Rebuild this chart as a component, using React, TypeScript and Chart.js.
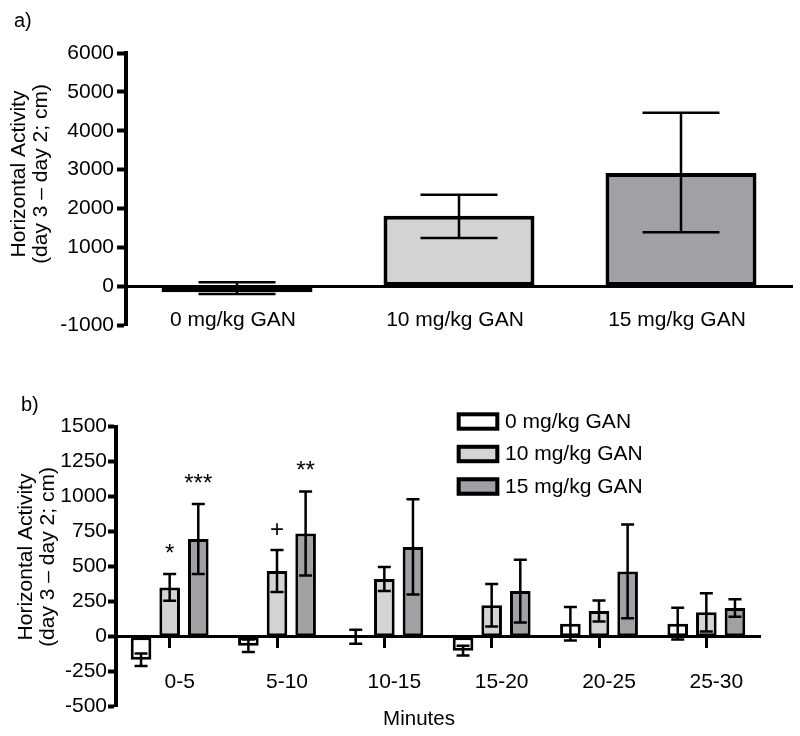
import React, { useEffect, useRef } from 'react';
import { Chart, registerables } from 'chart.js';

Chart.register(...registerables);

const FONT = '"Liberation Sans", Arial, Helvetica, sans-serif';
Chart.defaults.font.family = FONT;
Chart.defaults.color = '#000';

// ---------- Panel a data ----------
const aCategories = ['0 mg/kg GAN', '10 mg/kg GAN', '15 mg/kg GAN'];
const aMeans = [-160, 1810, 2910];
const aLower = [-200, 1240, 1385];
const aUpper = [100, 2350, 4460];
const aColors = ['#ffffff', '#d4d4d4', '#a1a1a5'];
const aTicks = { min: -1000, max: 6000, step: 1000 };

// ---------- Panel b data ----------
const bCategories = ['0-5', '5-10', '10-15', '15-20', '20-25', '25-30'];
const bSeriesLabels = ['0 mg/kg GAN', '10 mg/kg GAN', '15 mg/kg GAN'];
const b0Mean = [-165, -65, 0, -100, 93, 93];
const b0Sem = [45, 45, 50, 35, 120, 113];
const b10Mean = [352, 470, 412, 224, 184, 174];
const b10Sem = [95, 150, 86, 152, 75, 137];
const b15Mean = [698, 738, 641, 326, 466, 205];
const b15Sem = [250, 300, 340, 224, 335, 63];
const b0Sig = ['', '', '', '', '', ''];
const b10Sig = ['*', '+', '', '', '', ''];
const b15Sig = ['***', '**', '', '', '', ''];
const bColors = ['#ffffff', '#d4d4d4', '#a1a1a5'];
const bTicks = { min: -500, max: 1500, step: 250 };

type Bars = { lower: number[]; upper: number[] }[];
type TextItem = { text: string; x: number; y: number; size: number; rot?: number; align?: CanvasTextAlign };

function makeErrorBars(series: Bars, lineWidth: number, cap: number) {
  return {
    id: 'errorBars',
    afterDatasetsDraw(chart: any) {
      const { ctx } = chart;
      const ys = chart.scales.y;
      ctx.save();
      ctx.strokeStyle = '#000';
      ctx.lineWidth = lineWidth;
      series.forEach((s, di) => {
        const meta = chart.getDatasetMeta(di);
        meta.data.forEach((el: any, i: number) => {
          const x = el.x;
          const yl = ys.getPixelForValue(s.lower[i]);
          const yh = ys.getPixelForValue(s.upper[i]);
          ctx.beginPath();
          ctx.moveTo(x, yl);
          ctx.lineTo(x, yh);
          ctx.moveTo(x - cap, yl);
          ctx.lineTo(x + cap, yl);
          ctx.moveTo(x - cap, yh);
          ctx.lineTo(x + cap, yh);
          ctx.stroke();
        });
      });
      ctx.restore();
    },
  };
}

function makeTexts(items: TextItem[]) {
  return {
    id: 'texts',
    afterDraw(chart: any) {
      const { ctx } = chart;
      items.forEach((t) => {
        ctx.save();
        ctx.fillStyle = '#000';
        ctx.font = `${t.size}px ${FONT}`;
        ctx.textAlign = t.align || 'center';
        ctx.textBaseline = 'middle';
        ctx.translate(t.x, t.y);
        if (t.rot) ctx.rotate(t.rot);
        ctx.fillText(t.text, 0, 0);
        ctx.restore();
      });
    },
  };
}

function makeSig(sigs: string[][], upper: number[][], offset: number, size: number) {
  return {
    id: 'sig',
    afterDatasetsDraw(chart: any) {
      const { ctx } = chart;
      const ys = chart.scales.y;
      ctx.save();
      ctx.fillStyle = '#000';
      ctx.font = `${size}px ${FONT}`;
      ctx.textAlign = 'center';
      ctx.textBaseline = 'alphabetic';
      sigs.forEach((arr, di) => {
        const meta = chart.getDatasetMeta(di);
        arr.forEach((s, i) => {
          if (!s) return;
          const el = meta.data[i];
          ctx.fillText(s, el.x, ys.getPixelForValue(upper[di][i]) - offset);
        });
      });
      ctx.restore();
    },
  };
}

const legendPlugin = {
  id: 'boxLegend',
  afterDraw(chart: any) {
    const { ctx } = chart;
    const x0 = 456.7;
    const top0 = 52.3;
    const rowH = 32.5;
    const w = 42.6;
    const h = 18.4;
    chart.data.datasets.forEach((ds: any, i: number) => {
      const top = top0 + i * rowH;
      ctx.save();
      ctx.fillStyle = ds.backgroundColor;
      ctx.fillRect(x0, top, w, h);
      ctx.strokeStyle = '#000';
      ctx.lineWidth = 4;
      ctx.strokeRect(x0 + 2, top + 2, w - 4, h - 4);
      ctx.fillStyle = '#000';
      ctx.font = `21px ${FONT}`;
      ctx.textAlign = 'left';
      ctx.textBaseline = 'middle';
      ctx.fillText(ds.label, 505, top + h / 2 + 0.5);
      ctx.restore();
    });
  },
};

function PanelA() {
  const ref = useRef<HTMLCanvasElement>(null);
  useEffect(() => {
    const chart = new Chart(ref.current as HTMLCanvasElement, {
      type: 'bar',
      data: {
        labels: aCategories,
        datasets: [
          {
            label: 'Horizontal Activity',
            data: aMeans,
            backgroundColor: aColors,
            borderColor: '#000',
            borderWidth: 4,
            borderSkipped: false,
            barPercentage: 0.68,
            categoryPercentage: 1,
          },
        ],
      },
      options: {
        animation: false,
        responsive: false,
        maintainAspectRatio: false,
        layout: { padding: { top: 53, right: 8, bottom: 25, left: 0 } },
        plugins: { legend: { display: false }, tooltip: { enabled: false } },
        scales: {
          x: {
            type: 'category',
            position: { y: 0 } as any,
            grid: { display: false, drawTicks: false },
            border: { display: true, color: '#000', width: 3 },
            ticks: { color: '#000', font: { size: 21 }, padding: 21.7, labelOffset: -4, maxRotation: 0, autoSkip: false },
          },
          y: {
            min: aTicks.min,
            max: aTicks.max,
            ticks: { stepSize: aTicks.step, color: '#000', font: { size: 21 }, padding: 3, callback: (v: any) => String(v) },
            grid: { display: true, drawOnChartArea: false, drawTicks: true, tickLength: 9, tickWidth: 4, tickColor: '#000' },
            border: { display: true, color: '#000', width: 4 },
            afterFit: (s: any) => {
              s.width = 126;
            },
          },
        },
      } as any,
      plugins: [
        makeErrorBars([{ lower: aLower, upper: aUpper }], 2.5, 38.5),
        makeTexts([
          { text: 'a)', x: 14, y: 21, size: 20, align: 'left' },
          { text: 'Horizontal Activity', x: 19, y: 174, size: 21, rot: -Math.PI / 2 },
          { text: '(day 3 \u2013 day 2; cm)', x: 41.5, y: 174, size: 21, rot: -Math.PI / 2 },
        ]),
      ],
    });
    return () => chart.destroy();
  }, []);
  return (
    <canvas
      ref={ref}
      width={800}
      height={350}
      style={{ position: 'absolute', left: 0, top: 0, width: 800, height: 350 }}
    />
  );
}

function PanelB() {
  const ref = useRef<HTMLCanvasElement>(null);
  useEffect(() => {
    const means = [b0Mean, b10Mean, b15Mean];
    const sems = [b0Sem, b10Sem, b15Sem];
    const lower = means.map((m, k) => m.map((v, i) => v - sems[k][i]));
    const upper = means.map((m, k) => m.map((v, i) => v + sems[k][i]));
    const chart = new Chart(ref.current as HTMLCanvasElement, {
      type: 'bar',
      data: {
        labels: bCategories,
        datasets: means.map((m, k) => ({
          label: bSeriesLabels[k],
          data: m,
          backgroundColor: bColors[k],
          borderColor: '#000',
          borderWidth: 3,
          borderSkipped: false,
          barPercentage: 0.72,
          categoryPercentage: 0.8,
        })),
      },
      options: {
        animation: false,
        responsive: false,
        maintainAspectRatio: false,
        layout: { padding: { top: 66.7, right: 40, bottom: 29.3, left: 0 } },
        plugins: { legend: { display: false }, tooltip: { enabled: false } },
        scales: {
          x: {
            type: 'category',
            position: { y: 0 } as any,
            offset: true,
            grid: {
              display: true,
              offset: false,
              drawOnChartArea: false,
              drawTicks: true,
              tickLength: 10,
              tickWidth: 3,
              tickColor: '#000',
              color: '#000',
            },
            border: { display: true, color: '#000', width: 3 },
            ticks: { color: '#000', font: { size: 21 }, padding: 23.2, labelOffset: 10, maxRotation: 0, autoSkip: false },
          },
          y: {
            min: bTicks.min,
            max: bTicks.max,
            ticks: { stepSize: bTicks.step, color: '#000', font: { size: 21 }, padding: 1, callback: (v: any) => String(v) },
            grid: { display: true, drawOnChartArea: false, drawTicks: true, tickLength: 8, tickWidth: 4, tickColor: '#000' },
            border: { display: true, color: '#000', width: 4 },
            afterFit: (s: any) => {
              s.width = 116;
            },
          },
        },
      } as any,
      plugins: [
        makeErrorBars(
          lower.map((l, k) => ({ lower: l, upper: upper[k] })),
          2.5,
          6.5
        ),
        makeSig([b0Sig, b10Sig, b15Sig], upper, 13, 24),
        legendPlugin,
        makeTexts([
          { text: 'b)', x: 21, y: 45.5, size: 20, align: 'left' },
          { text: 'Horizontal Activity', x: 26, y: 197, size: 21, rot: -Math.PI / 2 },
          { text: '(day 3 \u2013 day 2; cm)', x: 48.5, y: 197, size: 21, rot: -Math.PI / 2 },
          { text: 'Minutes', x: 419, y: 359, size: 20.5 },
        ]),
      ],
    });
    return () => chart.destroy();
  }, []);
  return (
    <canvas
      ref={ref}
      width={800}
      height={376}
      style={{ position: 'absolute', left: 0, top: 360, width: 800, height: 376 }}
    />
  );
}

export default function App() {
  return (
    <div style={{ position: 'absolute', left: 0, top: 0, width: 800, height: 736, background: '#fff' }}>
      <PanelA />
      <PanelB />
    </div>
  );
}
